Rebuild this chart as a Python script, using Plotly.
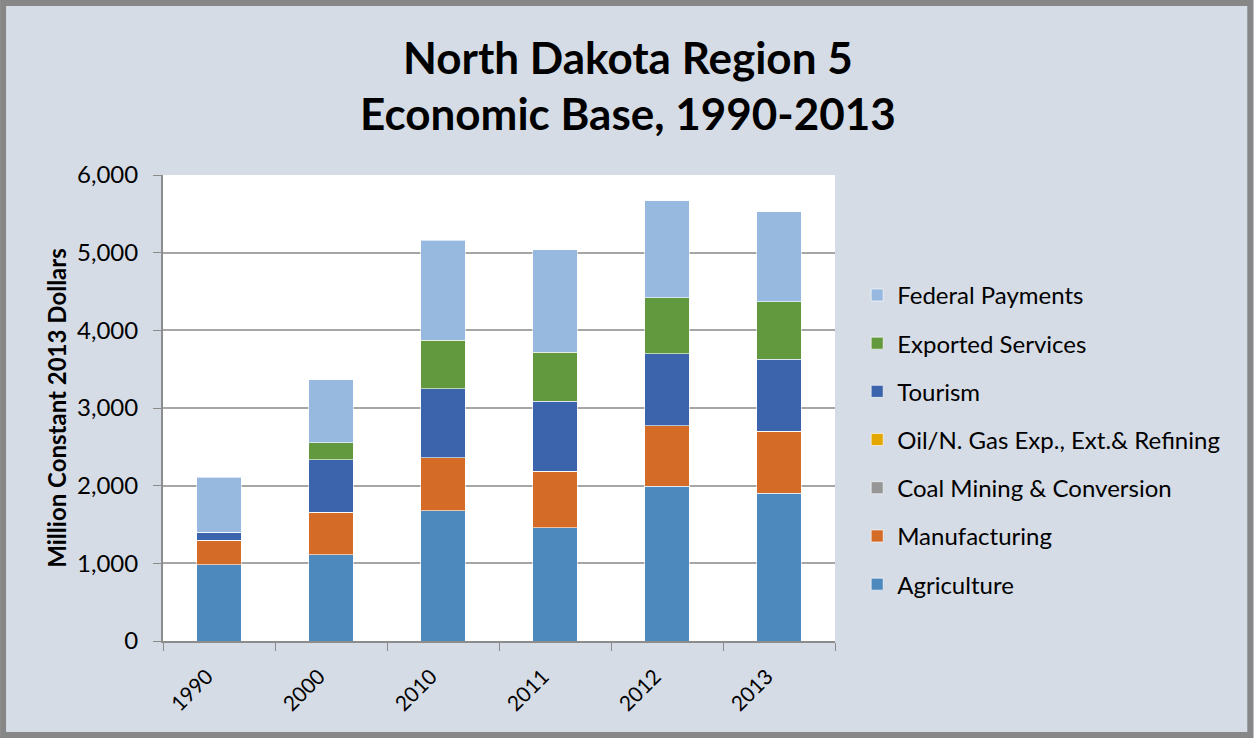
import plotly.graph_objects as go

# values (million constant 2013 dollars)
years = ["1990", "2000", "2010", "2011", "2012", "2013"]
agriculture = [980, 1110, 1680, 1460, 1990, 1900]
manufacturing = [320, 545, 680, 725, 780, 800]
coal = [0, 0, 0, 0, 0, 0]
oil_gas = [0, 0, 0, 0, 0, 0]
tourism = [100, 680, 885, 900, 930, 925]
exported_services = [0, 220, 625, 630, 720, 740]
federal_payments = [710, 810, 1290, 1325, 1250, 1160]

series = [
    ("Agriculture", agriculture, "#4E89BE"),
    ("Manufacturing", manufacturing, "#D46C28"),
    ("Coal Mining & Conversion", coal, "#969696"),
    ("Oil/N. Gas Exp., Ext.& Refining", oil_gas, "#E3A700"),
    ("Tourism", tourism, "#3B64AD"),
    ("Exported Services", exported_services, "#62993E"),
    ("Federal Payments", federal_payments, "#97B9E0"),
]

FONT = "Lato, 'Open Sans', sans-serif"
BG = "#D6DCE5"

fig = go.Figure()
for i, (name, vals, color) in enumerate(series):
    fig.add_trace(go.Bar(
        x=years, y=vals, name=name,
        marker=dict(color=color, line=dict(color="rgba(255,255,255,0.6)", width=1)),
        legendgroup=name,
        legendrank=len(series) - i,   # Federal Payments on top
    ))

fig.update_layout(
    barmode="stack",
    bargap=0.6,
    width=1254, height=738,
    paper_bgcolor=BG,
    plot_bgcolor="white",
    margin=dict(l=163, r=419, t=175, b=97),
    font=dict(family=FONT, size=22, color="black"),
    showlegend=True,
    legend=dict(
        x=1.033, xanchor="left", y=0.79, yanchor="top",
        font=dict(size=24, family=FONT),
        bgcolor="rgba(0,0,0,0)",
        itemwidth=30,
        traceorder="grouped",
        tracegroupgap=14,
    ),
    xaxis=dict(
        type="category",
        tickangle=-45,
        tickson="boundaries",
        ticks="outside", ticklen=8, tickcolor="#8c8c8c",
        showline=True, linecolor="#8c8c8c", linewidth=2,
        tickfont=dict(size=21),
        ticklabelshift=-12,
        ticklabelstandoff=13,
    ),
    yaxis=dict(
        range=[0, 6000],
        dtick=1000,
        tickformat=",",
        ticks="outside", ticklen=8, tickcolor="#8c8c8c",
        showline=True, linecolor="#8c8c8c", linewidth=2,
        gridcolor="#a6a6a6", gridwidth=1.5,
        tickfont=dict(size=24),
        ticklabelstandoff=10,
        title=dict(text="<b>Million Constant 2013 Dollars</b>", font=dict(size=24), standoff=4),
    ),
    annotations=[
        dict(text="<b>North Dakota Region 5</b>", xref="paper", yref="paper",
             x=0.692, y=1.253, xanchor="center", yanchor="middle", showarrow=False,
             font=dict(size=44, family=FONT)),
        dict(text="<b>Economic Base, 1990-2013</b>", xref="paper", yref="paper",
             x=0.692, y=1.133, xanchor="center", yanchor="middle", showarrow=False,
             font=dict(size=44, family=FONT)),
    ],
    shapes=[
        dict(type="rect", xref="paper", yref="paper",
             x0=-0.238, x1=1.618, y0=-0.2017, y1=1.369,
             line=dict(color="#878787", width=6), layer="below"),
    ],
)

fig.write_html("out.html", config={"displayModeBar": False},
               post_script="document.body.style.margin='0';")
